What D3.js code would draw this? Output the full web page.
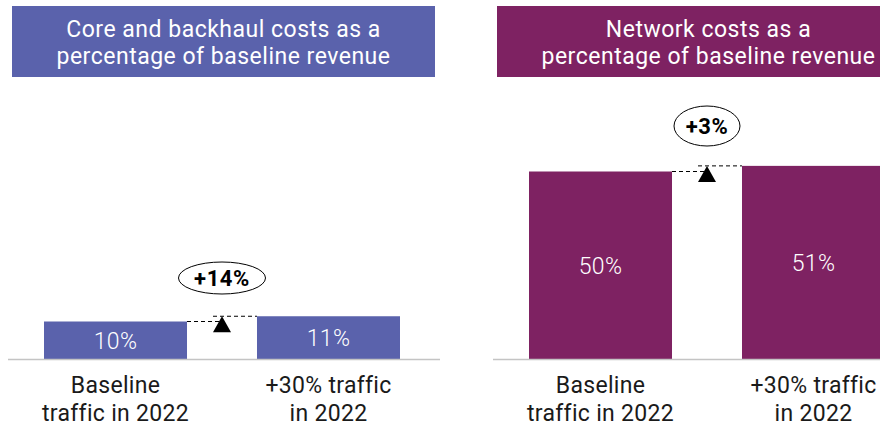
<!DOCTYPE html>
<html>
<head>
<meta charset="utf-8">
<script src="https://cdn.jsdelivr.net/npm/d3@7"></script>
<style>
  body { margin: 0; background: #fff; }
  svg { display: block; font-family: Roboto, "DejaVu Sans", sans-serif; }
</style>
</head>
<body>
<div id="chart"></div>
<script>
var categories = ["Baseline\ntraffic in 2022", "+30% traffic\nin 2022"];
var coreValues = [10, 11.4];
var coreLabels = ["10%", "11%"];
var coreChange = "+14%";
var networkValues = [50, 51.5];
var networkLabels = ["50%", "51%"];
var networkChange = "+3%";

var width = 880, height = 427;

var svg = d3.select("#chart").append("svg")
    .attr("width", width)
    .attr("height", height);

var x = d3.scaleBand()
    .domain(categories)
    .range([44, 400])
    .paddingInner(0.3286)
    .paddingOuter(0);
var y = d3.scaleLinear()
    .domain([0, 50])
    .range([359, 171.5]);

function panel(offset, title, values, labels, change, color, ell) {
  var g = svg.append("g")
      .attr("transform", "translate(" + offset + ",0)");

  // title box
  g.append("rect")
      .attr("x", 12).attr("y", 6)
      .attr("width", 423).attr("height", 71)
      .style("fill", color);
  g.append("text")
      .attr("x", 223.5).attr("y", 36.5)
      .style("text-anchor", "middle")
      .style("fill", "#fff")
      .style("font-size", "23px")
      .style("letter-spacing", "0.5px")
      .selectAll("tspan")
      .data(title)
    .enter().append("tspan")
      .attr("x", 223.5)
      .attr("dy", function(d, i) { return i ? 27.8 : 0; })
      .text(function(d) { return d; });

  // bars
  g.selectAll(".bar")
      .data(values)
    .enter().append("rect")
      .attr("class", "bar")
      .attr("x", function(d, i) { return x(categories[i]); })
      .attr("y", function(d) { return y(d); })
      .attr("width", x.bandwidth())
      .attr("height", function(d) { return y(0) - y(d); })
      .style("fill", color);

  g.selectAll(".val")
      .data(values)
    .enter().append("text")
      .attr("class", "val")
      .attr("x", function(d, i) { return x(categories[i]) + x.bandwidth() / 2; })
      .attr("y", function(d) { return (y(d) + y(0)) / 2; })
      .attr("dy", "0.38em")
      .style("text-anchor", "middle")
      .style("fill", "#fff")
      .style("font-size", "23px")
      .style("font-weight", 300)
      .style("letter-spacing", "0.3px")
      .text(function(d, i) { return labels[i]; });

  // baseline
  g.append("line")
      .attr("x1", 8).attr("x2", 440)
      .attr("y1", y(0) + 0.5).attr("y2", y(0) + 0.5)
      .style("stroke", "#c4c4c4")
      .style("stroke-width", 1.5);

  // category labels
  var cat = g.selectAll(".cat")
      .data(categories)
    .enter().append("text")
      .attr("class", "cat")
      .attr("y", 393)
      .style("text-anchor", "middle")
      .style("fill", "#1a1a1a")
      .style("font-size", "23px")
      .style("letter-spacing", "0.3px");
  cat.selectAll("tspan")
      .data(function(d) { return d.split("\n").map(function(t) { return {c: d, t: t}; }); })
    .enter().append("tspan")
      .attr("x", function(d) { return x(d.c) + x.bandwidth() / 2; })
      .attr("dy", function(d, i) { return i ? 28 : 0; })
      .text(function(d) { return d.t; });

  // change marker
  var x1 = x(categories[0]) + x.bandwidth();
  var x2 = x(categories[1]);
  var cx = (x1 + x2) / 2;
  var y1 = y(values[0]), y2 = y(values[1]);
  g.append("line")
      .attr("x1", x1).attr("x2", cx)
      .attr("y1", y1).attr("y2", y1)
      .style("stroke", "#000").style("stroke-dasharray", "4,3");
  g.append("line")
      .attr("x1", cx - 9).attr("x2", x2)
      .attr("y1", y2).attr("y2", y2)
      .style("stroke", "#000").style("stroke-dasharray", "4,3");
  g.append("path")
      .attr("d", "M" + cx + "," + y2 + "L" + (cx + 9) + "," + (y2 + 16) + "L" + (cx - 9) + "," + (y2 + 16) + "Z")
      .style("fill", "#000");

  g.append("ellipse")
      .attr("cx", cx).attr("cy", ell.cy)
      .attr("rx", ell.rx).attr("ry", ell.ry)
      .style("fill", "#fff")
      .style("stroke", "#000")
      .style("stroke-width", 1);
  g.append("text")
      .attr("x", cx).attr("y", ell.cy)
      .attr("dy", "0.36em")
      .style("text-anchor", "middle")
      .style("font-size", "22px")
      .style("font-weight", "bold")
      .style("letter-spacing", "0.6px")
      .style("fill", "#000")
      .text(change);
}

panel(0, ["Core and backhaul costs as a", "percentage of baseline revenue"],
  coreValues, coreLabels, coreChange, "#5a62ac", {cy: 278, rx: 43.5, ry: 16});
panel(485, ["Network costs as a", "percentage of baseline revenue"],
  networkValues, networkLabels, networkChange, "#7e2262", {cy: 126, rx: 33, ry: 20});
</script>
</body>
</html>
